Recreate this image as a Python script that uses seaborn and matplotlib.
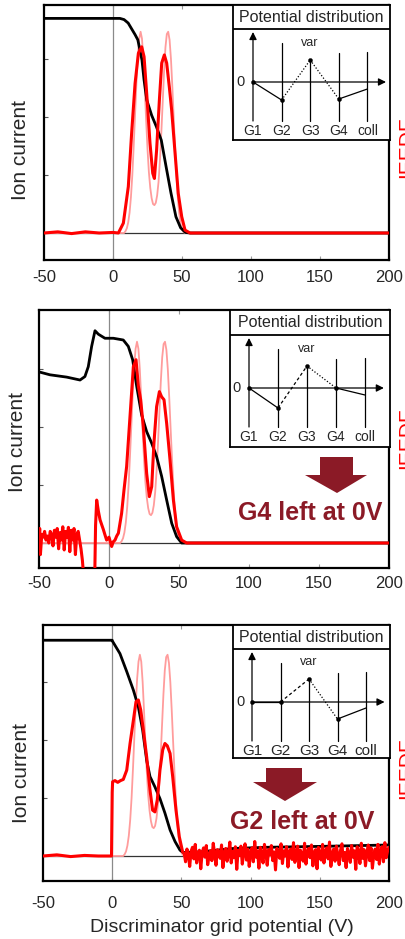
import matplotlib
matplotlib.use("Agg")
import matplotlib.pyplot as plt
from matplotlib.patches import Polygon
import seaborn as sns

sns.set_style("white")
plt.rcParams["font.family"] = ["Liberation Sans", "DejaVu Sans"]

# ---------------------------------------------------------------- data
# Reference IEDF (thin light-red trace, identical in every panel)
ref_x = [-50] + list(range(8, 53)) + [200]
ref_y = [0.0,
         0.0, 0.03, 0.08, 0.18, 0.35, 0.62, 1.0, 1.5, 2.05, 2.6,
         3.05, 3.35, 3.47, 3.35, 3.0, 2.5, 1.95, 1.45, 1.05, 0.78,
         0.6, 0.5, 0.48, 0.52, 0.65, 0.88, 1.25, 1.72, 2.25, 2.78,
         3.2, 3.43, 3.47, 3.33, 3.0, 2.52, 1.98, 1.45, 0.98, 0.6,
         0.33, 0.15, 0.06, 0.02, 0.0,
         0.0]

# Panel 1: all grids biased
cur1_x = [-50, 0, 5, 8, 11, 14, 16, 18, 21, 22.5, 24.5, 28, 31.5, 35, 38.5, 42, 45.6, 49, 52.5, 56, 200]
cur1_y = [3.7, 3.7, 3.7, 3.68, 3.62, 3.5, 3.42, 3.33, 2.98, 2.64, 2.29, 2.03, 1.83, 1.6, 1.14, 0.69, 0.28, 0.09, 0.01, 0.0, 0.0]
iedf1_x = [-50, -40, -30, -20, -10, 0, 3.9, 7.5, 11.1, 13.5, 16, 18.4, 20.8, 22.5, 24.4, 26.8, 28.8, 30,
           31.6, 33.6, 35.3, 37.2, 38.9, 40.8, 42.5, 45, 47.3, 49.8, 52.2, 55.8, 200]
iedf1_y = [0.0, 0.02, -0.01, 0.02, 0.0, 0.01, 0.0, 0.17, 0.8, 1.72, 2.58, 3.1, 3.21, 3.04, 2.41, 1.55, 1.03, 0.94,
           1.43, 2.29, 2.93, 3.07, 2.93, 2.52, 2.12, 1.37, 0.68, 0.28, 0.05, 0.0, 0.0]

# Panel 2: G4 left at 0 V
cur2_x = [-50, -42.2, -30.2, -20.7, -17.2, -14.8, -12.4, -10, -7.6, -2.9, 3.1, 10.2, 13.8, 16.9, 19.8,
          23.3, 26.9, 30.5, 34, 37.6, 41.2, 44.8, 48.3, 51.9, 56, 200]
cur2_y = [2.95, 2.9, 2.86, 2.81, 2.87, 3.04, 3.39, 3.66, 3.6, 3.53, 3.53, 3.5, 3.39, 3.16, 2.7,
          2.21, 1.92, 1.72, 1.49, 1.15, 0.74, 0.34, 0.11, 0.0, 0.0, 0.0]
iedf2_x = [-50, -49.5, -49, -48, -47, -46, -45, -44, -43, -42, -41, -40, -39, -38, -37, -36, -35, -34,
           -33, -32, -31, -30, -29, -28, -27, -26, -25, -24, -23, -22, -21, -20, -19, -18, -15, -12,
           -10.2, -9.6, -8.8, -7.6, -6.4, -5, -4, -3, -1.7, 0, 1.9, 3, 4.3, 5.5, 6.7, 9, 10.7, 12.6,
           15, 17.4, 19.3, 21, 22.6, 24.5, 26.9, 28.8, 30.5, 32.1, 34, 36, 37.6, 39.3, 41.2, 43.6,
           46, 48.3, 51.9, 55.5, 200]
iedf2_y = [0.05, 0.25, -0.2, 0.15, 0.1, 0.2, 0.05, 0.12, 0.0, 0.2, 0.15, -0.05, 0.22, 0.1, 0.25, -0.1, 0.18, 0.05,
           0.28, -0.12, 0.2, 0.1, 0.27, -0.15, 0.22, 0.05, 0.25, -0.2, 0.15, 0.2, 0.05, -0.1, -0.3, -0.6, -0.8, -0.8,
           -0.6, 0.3, 0.74, 0.55, 0.4, 0.3, 0.23, 0.15, 0.05, 0.1, -0.06, 0.02, 0.05, 0.12, 0.17, 0.51, 0.91, 1.32,
           2.18, 3.04, 3.16, 2.7, 2.47, 2.01, 1.2, 0.8, 0.97, 1.72, 2.35, 2.61, 2.52, 2.47, 2.06, 1.43,
           0.74, 0.28, 0.05, 0.0, 0.0]

# Panel 3: G2 left at 0 V
cur3_x = [-50, 0, 0.3, 5.6, 10.5, 15.3, 18.9, 22, 24.9, 27.3, 30.9, 34.5, 38.1, 41.8, 45.4, 49, 51.4,
          63.4, 87.5, 111.6, 159.8, 200]
cur3_y = [3.72, 3.72, 3.7, 3.49, 3.18, 2.86, 2.57, 2.17, 1.65, 1.37, 1.19, 0.99, 0.74, 0.45, 0.25, 0.1, 0.06,
          0.07, 0.13, 0.15, 0.17, 0.19]
iedf3_x = [-50, -40, -30, -20, -10, -0.5, 0, 0.3, 2, 4, 6, 8, 10.5, 12.9, 15.3, 17.2, 18.9, 20.6, 22.5,
           24.9, 27.3, 29.2, 30.9, 32.6, 34.5, 36.5, 38.1, 39.8, 41.8, 43.7, 46.1, 48.5, 50.9]
iedf3_y = [0.0, 0.02, -0.01, 0.01, 0.0, 0.0, 1.1, 1.28, 1.3, 1.27, 1.3, 1.32, 1.48, 1.94, 2.34, 2.66, 2.69, 2.52, 2.17,
           1.71, 1.14, 0.79, 0.76, 0.97, 1.48, 1.83, 1.94, 1.9, 1.77, 1.37, 0.79, 0.33, 0.07]
# measured tail of the IEDF above 52 V, sampled every 1 V
tail3_x = list(range(52, 201))
tail3_y = [0.05, -0.10, 0.12, 0.02, -0.18, 0.08, 0.15, -0.05, 0.20, -0.12,
           0.03, 0.10, -0.22, 0.06, 0.14, -0.02, 0.18, -0.15, 0.00, 0.09,
           -0.08, 0.22, 0.04, -0.16, 0.11, 0.07, -0.04, 0.19, -0.20, 0.05,
           0.13, -0.09, 0.02, 0.24, -0.12, 0.08, -0.03, 0.16, -0.23, 0.10,
           0.01, 0.17, -0.14, 0.06, 0.21, -0.07, 0.12, -0.18, 0.04, 0.14,
           -0.10, 0.25, -0.02, 0.09, -0.21, 0.15, 0.03, -0.12, 0.20, 0.06,
           -0.16, 0.11, 0.02, 0.18, -0.08, 0.07, -0.24, 0.13, 0.05, -0.04,
           0.21, -0.13, 0.09, 0.00, 0.16, -0.19, 0.08, 0.12, -0.06, 0.23,
           -0.11, 0.04, 0.17, -0.20, 0.10, 0.02, -0.09, 0.22, -0.14, 0.07,
           0.13, -0.03, 0.19, -0.17, 0.06, 0.11, -0.22, 0.15, 0.01, -0.07,
           0.20, -0.12, 0.08, 0.14, -0.05, 0.24, -0.18, 0.03, 0.12, -0.09,
           0.17, 0.02, -0.15, 0.10, 0.21, -0.08, 0.06, -0.20, 0.13, 0.04,
           -0.11, 0.18, -0.02, 0.09, -0.23, 0.16, 0.07, -0.13, 0.22, -0.04,
           0.11, -0.17, 0.05, 0.19, -0.08, 0.14, -0.21, 0.02, 0.12, -0.06,
           0.20, -0.14, 0.08, 0.16, -0.10, 0.23, -0.03, 0.09, 0.15]

# Potential distribution across the grids (arbitrary units)
grids = ["G1", "G2", "G3", "G4", "coll"]
pot1 = [0.0, -0.9, 1.1, -0.85, -0.35]
pot2 = [0.0, -1.0, 1.1, 0.0, -0.35]
pot3 = [0.0, 0.0, 1.15, -0.85, -0.3]
seg1 = ["-", (0, (1, 1.5)), (0, (1, 1.5)), "-"]
seg2 = ["-", (0, (2.5, 2)), (0, (1, 1.5)), "-"]
seg3 = ["-", (0, (2.5, 2)), (0, (1, 1.5)), "-"]

xticks = [-50, 0, 50, 100, 150, 200]

# ---------------------------------------------------------------- layout
W, H = 405, 939
fig = plt.figure(figsize=(W / 100, H / 100), dpi=100)


def frac(l, t, r, b):
    return [l / W, 1 - b / H, (r - l) / W, (b - t) / H]


def fpt(x, y):
    return (x / W, 1 - y / H)


DARKRED = "#8b1a26"
LIGHTRED = "#ff9c9c"

panels = [
    dict(ax=(44, 5, 389, 260), base=233, cur=(cur1_x, cur1_y), iedf=[(iedf1_x, iedf1_y)], pad=7,
         box=(233, 5, 390, 140), zero=82, gx=253, gdx=28.6, pot=pot1, seg=seg1, glfs=10,
         ylab=(21, 150), tag=147, note=None),
    dict(ax=(39, 310, 389, 568), base=543, cur=(cur2_x, cur2_y), iedf=[(iedf2_x, iedf2_y)], pad=6,
         box=(230, 310, 390, 447), zero=388, gx=249, gdx=29.0, pot=pot2, seg=seg2, glfs=10,
         ylab=(18, 442), tag=438,
         note=dict(text="G4 left at 0V", tx=310, ty=513,
                   arrow=[(320, 457), (353, 457), (353, 475), (367, 475), (337, 493), (305, 475), (320, 475)])),
    dict(ax=(43, 625, 389, 881), base=856, cur=(cur3_x, cur3_y),
         iedf=[(iedf3_x, iedf3_y), (tail3_x, tail3_y)], pad=11,
         box=(233, 625, 390, 758), zero=702, gx=252, gdx=28.5, pot=pot3, seg=seg3, glfs=11,
         ylab=(22, 773), tag=768,
         note=dict(text="G2 left at 0V", tx=302, ty=822,
                   arrow=[(266, 768), (302, 768), (302, 782), (317, 782), (285, 801), (253, 782), (266, 782)])),
]

UNIT = 58.0   # pixels per current unit
PUNIT = 20.0  # pixels per potential unit

for p in panels:
    l, t, r, b = p["ax"]
    ax = fig.add_axes(frac(l, t, r, b))
    ax.set_xlim(-50, 200)
    ax.set_ylim((p["base"] - b) / UNIT, (p["base"] - t) / UNIT)
    ax.axvline(0, color="#8a8a8a", lw=0.9, zorder=1)
    ax.axhline(0, color="#333333", lw=0.9, zorder=1)

    sns.lineplot(x=ref_x, y=ref_y, ax=ax, color=LIGHTRED, linewidth=1.3,
                 estimator=None, sort=False, zorder=2)
    cx, cy = p["cur"]
    sns.lineplot(x=cx, y=cy, ax=ax, color="black", linewidth=2.0,
                 estimator=None, sort=False, zorder=3)
    for ix, iy in p["iedf"]:
        sns.lineplot(x=ix, y=iy, ax=ax, color="#ff0000", linewidth=2.2,
                     estimator=None, sort=False, zorder=4)

    ax.set_xticks(xticks)
    ax.set_xticklabels([str(v) for v in xticks])
    ax.set_yticks([1, 2, 3])
    ax.set_yticklabels([])
    ax.tick_params(axis="x", direction="in", length=3, width=0.8, color="#9a9a9a",
                   labelsize=12, pad=p["pad"], top=True, bottom=True)
    ax.tick_params(axis="y", direction="in", length=3, width=0.8, color="#555555", left=True)
    ax.set_xlabel("")
    ax.set_ylabel("")
    for s in ax.spines.values():
        s.set_linewidth(1.6)
        s.set_color("black")

    fig.text(*fpt(*p["ylab"]), "Ion current", rotation=90, ha="center", va="center", fontsize=15)
    # right-hand axis title, running off the right edge of the figure
    fig.text(*fpt(397, p["tag"]), "IEEDF", rotation=90, ha="left", va="center",
             fontsize=15, color="#ff0000")

    # ---- inset: potential distribution
    bl, bt, br, bb = p["box"]
    iax = fig.add_axes(frac(bl, bt, br, bb), zorder=5)
    iax.set_facecolor("white")
    g0, gd, z = p["gx"], p["gdx"], p["zero"]
    iax.set_xlim((bl - g0) / gd, (br - g0) / gd)
    iax.set_ylim((z - bb) / PUNIT, (z - bt) / PUNIT)
    iax.set_xticks([])
    iax.set_yticks([])
    for s in iax.spines.values():
        s.set_linewidth(1.3)
        s.set_color("black")
    xr = iax.get_xlim()
    yr = iax.get_ylim()
    iax.axhline(2.65, color="black", lw=1.3)
    iax.text(sum(xr) / 2, (2.65 + yr[1]) / 2, "Potential distribution",
             ha="center", va="center", fontsize=11.5)

    pot = p["pot"]
    idx = list(range(len(grids)))
    tops = [None, 1.95, pot[2], 1.45, 1.5]
    bottom = -1.95
    iax.annotate("", xy=(0, 2.5), xytext=(0, bottom),
                 arrowprops=dict(arrowstyle="-|>", color="black", lw=0.9,
                                 mutation_scale=11, shrinkA=0, shrinkB=0))
    iax.annotate("", xy=(4.65, 0), xytext=(0, 0),
                 arrowprops=dict(arrowstyle="-|>", color="black", lw=0.9,
                                 mutation_scale=11, shrinkA=0, shrinkB=0))
    for i in idx[1:]:
        iax.plot([i, i], [bottom, tops[i]], color="black", lw=0.9)
    for i, ls in enumerate(p["seg"]):
        iax.plot([idx[i], idx[i + 1]], [pot[i], pot[i + 1]], color="black", lw=0.9, linestyle=ls)
    sns.scatterplot(x=idx[:4], y=pot[:4], ax=iax, color="black", s=9, edgecolor=None, zorder=6)
    for i, g in zip(idx, grids):
        iax.text(i, -2.45, g, ha="center", va="center", fontsize=p["glfs"])
    iax.text(2, pot[2] + 0.85, "var", ha="center", va="center", fontsize=9)
    iax.text(-0.42, 0, "0", ha="center", va="center", fontsize=10.5)
    iax.set_xlabel("")
    iax.set_ylabel("")

    note = p["note"]
    if note:
        fig.add_artist(Polygon([fpt(x, y) for x, y in note["arrow"]], closed=True,
                               transform=fig.transFigure, facecolor=DARKRED, edgecolor="none", zorder=6))
        fig.text(*fpt(note["tx"], note["ty"]), note["text"], ha="center", va="center",
                 fontsize=18, fontweight="bold", color=DARKRED, zorder=7)

fig.text(*fpt(222, 928), "Discriminator grid potential (V)", ha="center", va="center", fontsize=14)

fig.savefig("out.png", dpi=100)
